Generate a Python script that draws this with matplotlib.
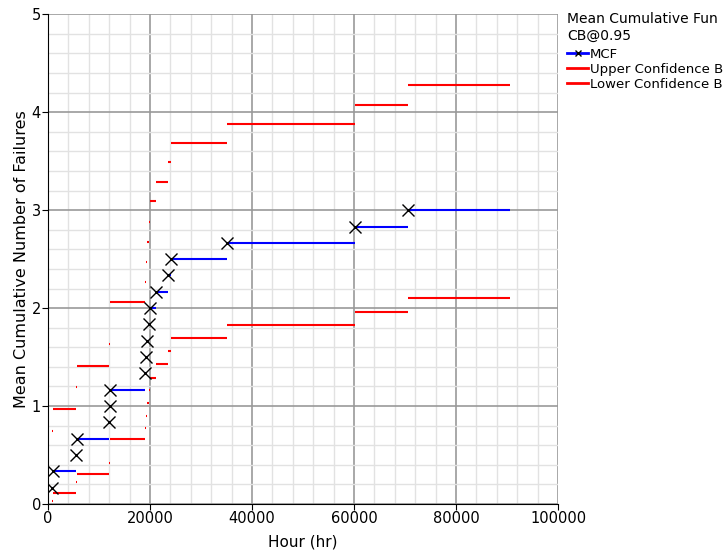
import matplotlib
matplotlib.use('Agg')
import matplotlib.pyplot as plt
from matplotlib.lines import Line2D
from matplotlib.ticker import MultipleLocator

# failure times (hr) and MCF value at each failure, with 95% confidence bounds
times = [850, 1050, 5400, 5600, 11900, 12100, 12100, 19000, 19250, 19500,
         19850, 20050, 21100, 23550, 24080, 35050, 60200, 70650]
end_time = 90650
mcf = [1/6, 2/6, 3/6, 4/6, 5/6, 1.0, 7/6, 8/6, 9/6, 10/6,
       11/6, 2.0, 13/6, 14/6, 15/6, 16/6, 17/6, 3.0]
upper = [0.75, 0.965, 1.19, 1.41, 1.63, 1.85, 2.06, 2.27, 2.47, 2.68,
         2.88, 3.09, 3.29, 3.49, 3.69, 3.88, 4.076, 4.28]
lower = [0.03, 0.115, 0.22, 0.31, 0.42, 0.54, 0.664, 0.78, 0.90, 1.035,
         1.165, 1.29, 1.43, 1.566, 1.70, 1.83, 1.96, 2.107]

t_next = times[1:] + [end_time]

fig = plt.figure(figsize=(7.25, 5.51), dpi=100)
ax = fig.add_axes([0.0662, 0.0853, 0.7035, 0.8887])

ax.hlines(upper, times, t_next, color='red', lw=1.5)
ax.hlines(lower, times, t_next, color='red', lw=1.5)
ax.hlines(mcf, times, t_next, color='blue', lw=1.5)
ax.plot(times, mcf, 'x', color='black', markersize=9, mew=1.0)

ax.set_xlim(0, 100000)
ax.set_ylim(0, 5)
ax.xaxis.set_major_locator(MultipleLocator(20000))
ax.xaxis.set_minor_locator(MultipleLocator(4000))
ax.yaxis.set_major_locator(MultipleLocator(1))
ax.yaxis.set_minor_locator(MultipleLocator(0.2))
ax.grid(which='major', color='#999999', lw=1.2)
ax.grid(which='minor', color='#e2e2e2', lw=1.0)
ax.set_axisbelow(True)
ax.tick_params(which='minor', length=0)
ax.tick_params(which='major', length=4, labelsize=10.5, pad=1)
for s in ['top', 'right']:
    ax.spines[s].set_visible(False)

ax.set_xlabel('Hour (hr)', fontsize=11, labelpad=6)
ax.set_ylabel('Mean Cumulative Number of Failures', fontsize=11.5, labelpad=2)

# legend title, as two lines
fig.text(567 / 725, 1 - 19 / 551, 'Mean Cumulative Fun', fontsize=10, va='center')
fig.text(567 / 725, 1 - 36 / 551, 'CB@0.95', fontsize=10, va='center')

handles = [Line2D([], [], color='blue', lw=2, marker='x', markersize=4, mec='black'),
           Line2D([], [], color='red', lw=2),
           Line2D([], [], color='red', lw=2)]
labels = ['MCF', 'Upper Confidence B', 'Lower Confidence B']
ax.legend(handles, labels, loc='upper left', bbox_to_anchor=(0.782, 0.913),
          bbox_transform=fig.transFigure, frameon=False, fontsize=9.5,
          handlelength=1.6, handletextpad=0.15,
          labelspacing=0.14, borderpad=0, borderaxespad=0)

fig.savefig('out.png', dpi=100)
